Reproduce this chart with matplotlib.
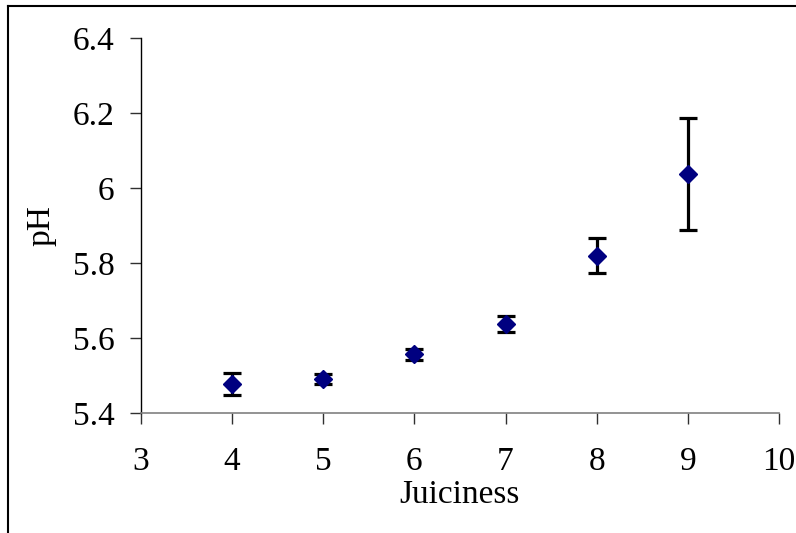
import numpy as np
import matplotlib.pyplot as plt
from matplotlib.lines import Line2D

# Data
juiciness = [4, 5, 6, 7, 8, 9]
ph_mean = [5.478, 5.490, 5.557, 5.638, 5.820, 6.037]
ph_err = [0.030, 0.013, 0.015, 0.022, 0.047, 0.150]

plt.rcParams['font.family'] = ['Liberation Serif', 'DejaVu Serif']

fig = plt.figure(figsize=(7.96, 5.33), dpi=100)
ax = fig.add_axes([141 / 796, 1 - 413 / 533, (779 - 141) / 796, (413 - 38) / 533])

ax.errorbar(juiciness, ph_mean, yerr=ph_err, fmt='none', ecolor='black',
            elinewidth=2.3, capsize=6.5, capthick=2.3, zorder=2)
ax.plot(juiciness, ph_mean, linestyle='none', marker='D', markersize=9.2,
        color='#000080', zorder=3)

ax.set_xlim(3, 10)
ax.set_ylim(5.4, 6.4)
ax.set_xticks(np.arange(3, 11, 1))
ax.set_yticks([5.4, 5.6, 5.8, 6.0, 6.2, 6.4])
ax.set_yticklabels(['5.4', '5.6', '5.8', '6', '6.2', '6.4'])

for s in ['top', 'right']:
    ax.spines[s].set_visible(False)
ax.spines['left'].set_color('black')
ax.spines['left'].set_linewidth(1.0)
ax.spines['bottom'].set_color('#808080')
ax.spines['bottom'].set_linewidth(1.2)
ax.tick_params(axis='both', direction='out', length=8, width=1.0, color='#303030',
               labelsize=24)
ax.tick_params(axis='y', pad=11)
ax.tick_params(axis='x', pad=16)

ax.set_xlabel('Juiciness', fontsize=24, labelpad=2)
ax.set_ylabel('pH', fontsize=24, labelpad=12)

# partial figure border (left and top edges)
fig.add_artist(Line2D([8 / 796, 8 / 796], [0, 1 - 6 / 533], transform=fig.transFigure,
                      color='black', linewidth=1.5))
fig.add_artist(Line2D([8 / 796, 1], [1 - 6 / 533, 1 - 6 / 533], transform=fig.transFigure,
                      color='black', linewidth=1.5))

fig.savefig('out.png', dpi=100)
